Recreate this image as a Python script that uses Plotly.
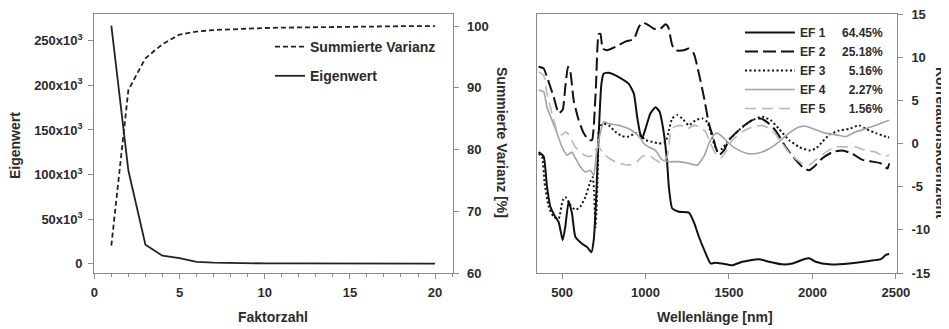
import plotly.graph_objects as go

# ---------------- data: left panel ----------------
faktor = list(range(1, 21))
eigenwert = [267000, 104500, 21300, 9000, 6200, 2000, 1200, 700, 450, 350,
             280, 230, 190, 160, 130, 110, 90, 75, 60, 50]
summierte_varianz = [64.45, 89.63, 94.79, 97.06, 98.62, 99.10, 99.35, 99.50, 99.60, 99.68,
                     99.74, 99.79, 99.83, 99.87, 99.90, 99.93, 99.95, 99.97, 99.99, 100.0]

eig_tickvals = [0, 50000, 100000, 150000, 200000, 250000]
eig_ticktext = ["0", "50x10<sup>3</sup>", "100x10<sup>3</sup>", "150x10<sup>3</sup>",
                "200x10<sup>3</sup>", "250x10<sup>3</sup>"]
var_tickvals = [60, 70, 80, 90, 100]

# ---------------- data: right panel ----------------
ef1_wl = [360, 390, 410, 430, 460, 480, 504, 520, 540, 560, 580, 620, 650, 676, 690, 704, 720, 736, 750,
          780, 840, 900, 930, 950, 970, 980, 1000, 1030, 1060, 1084, 1110, 1130, 1140, 1160, 1200, 1260,
          1290, 1320, 1360, 1390, 1420, 1460, 1520, 1580, 1680, 1740, 1820, 1880, 1950, 1980, 2020, 2100,
          2220, 2340, 2410, 2440, 2460]
ef1_val = [-1.0, -1.5, -5.0, -7.3, -8.5, -9.1, -11.2, -9.6, -6.7, -8.1, -10.8, -11.6, -12.0, -12.6, -11.2,
           -6.6, 1.2, 6.9, 8.1, 8.2, 7.7, 6.9, 5.8, 3.1, 1.0, 0.6, 1.7, 3.5, 4.2, 3.7, 1.2, -2.3, -5.0, -7.5,
           -7.9, -8.0, -9.1, -10.8, -12.7, -13.9, -13.8, -13.9, -14.1, -13.7, -13.4, -13.7, -14.0, -13.9,
           -13.4, -13.3, -13.7, -14.0, -13.9, -13.6, -13.4, -12.9, -12.8]

ef2_wl = [360, 390, 410, 450, 480, 504, 520, 536, 550, 570, 600, 630, 660, 680, 690, 704, 720, 730, 744,
          770, 820, 880, 930, 960, 980, 1010, 1050, 1090, 1120, 1136, 1160, 1180, 1230, 1260, 1290, 1320,
          1350, 1380, 1404, 1420, 1440, 1470, 1500, 1540, 1580, 1640, 1690, 1740, 1780, 1840, 1900, 1950,
          1980, 2010, 2060, 2120, 2180, 2240, 2300, 2360, 2410, 2450, 2460]
ef2_val = [8.9, 8.7, 7.7, 5.4, 3.5, 3.9, 6.6, 8.9, 8.3, 5.0, 2.7, 1.2, 0.4, 0.4, 1.9, 6.9, 12.7, 12.7, 11.0,
           10.8, 11.2, 11.8, 12.1, 13.5, 14.0, 13.8, 13.3, 13.3, 13.8, 13.5, 11.4, 10.8, 10.8, 11.0, 10.4,
           8.1, 5.4, 2.3, 0.8, -0.4, -1.35, -0.8, 0.4, 1.2, 1.9, 2.7, 2.9, 2.3, 1.5, -0.4, -1.9, -2.9, -3.1,
           -2.7, -1.7, -1.0, -0.8, -1.2, -1.9, -2.1, -2.3, -2.9, -2.3]

ef3_wl = [360, 380, 396, 420, 450, 480, 504, 520, 550, 580, 610, 640, 670, 684, 692, 700, 706, 715, 724,
          750, 780, 820, 860, 900, 940, 970, 1000, 1040, 1080, 1120, 1140, 1160, 1190, 1220, 1260, 1300,
          1340, 1370, 1390, 1410, 1430, 1460, 1490, 1530, 1580, 1640, 1700, 1750, 1800, 1860, 1920, 1980,
          2020, 2060, 2100, 2160, 2220, 2280, 2320, 2380, 2440, 2460]
ef3_val = [-1.2, -1.5, -4.6, -7.3, -8.5, -8.7, -6.6, -6.2, -7.1, -7.7, -7.3, -6.2, -4.4, -3.9, -5.5, -9.7,
           -8.0, -3.0, 1.9, 2.3, 2.1, 1.35, 0.85, 0.8, 1.2, 1.0, 0.4, 0.2, 0.0, 0.2, 1.5, 2.9, 3.3, 2.9, 2.1,
           2.7, 2.9, 2.5, 1.35, 0.0, -0.8, -0.6, 0.2, 1.0, 1.9, 2.7, 3.1, 2.7, 1.7, 0.4, -0.4, -0.8, -0.6,
           0.2, 1.0, 1.5, 1.7, 2.1, 1.7, 1.2, 0.8, 0.7]

ef4_wl = [360, 390, 410, 440, 470, 500, 530, 560, 580, 610, 640, 670, 690, 704, 720, 750, 780, 840, 900,
          940, 970, 990, 1020, 1060, 1100, 1140, 1200, 1260, 1310, 1350, 1380, 1410, 1430, 1460, 1500,
          1560, 1620, 1680, 1740, 1800, 1860, 1920, 1960, 2020, 2080, 2140, 2200, 2260, 2320, 2380, 2430,
          2460]
ef4_val = [6.2, 6.0, 4.2, 2.7, 1.2, -0.4, -1.35, -1.0, -1.7, -2.7, -3.3, -3.1, -3.7, -1.5, 0.4, 2.5, 2.3,
           2.1, 1.7, 1.2, 0.6, 0.0, -0.4, -0.8, -1.9, -2.1, -2.1, -2.3, -2.5, -1.5, 0.0, 1.0, 1.2, 0.8, 0.0,
           -0.8, -1.2, -1.1, -0.6, 0.2, 1.2, 1.9, 2.0, 1.6, 1.2, 1.0, 0.8, 1.35, 1.7, 2.1, 2.5, 2.7]

ef5_wl = [360, 390, 410, 440, 470, 500, 520, 540, 580, 620, 660, 690, 704, 720, 750, 780, 840, 900, 940,
          980, 1020, 1060, 1100, 1130, 1150, 1170, 1210, 1250, 1290, 1330, 1360, 1390, 1420, 1450, 1480,
          1520, 1580, 1640, 1700, 1760, 1820, 1880, 1940, 1980, 2020, 2080, 2140, 2200, 2260, 2320, 2380,
          2430, 2460]
ef5_val = [8.3, 7.9, 5.8, 3.5, 1.5, 1.0, 1.35, 1.0, -0.4, -1.2, -1.5, -1.35, -0.6, -0.4, -1.2, -1.7, -2.3,
           -2.5, -2.3, -1.5, -1.35, -1.9, -2.3, -1.5, 1.2, 1.9, 2.1, 1.7, 2.1, 1.9, 1.35, 0.0, -1.2, -1.7,
           -1.0, 0.4, 1.35, 1.9, 2.1, 1.5, 0.0, -1.5, -2.3, -2.5, -1.9, -1.0, -0.4, -0.4, -0.4, -0.8, -1.0,
           -1.5, -1.35]

ef_names = ["EF 1", "EF 2", "EF 3", "EF 4", "EF 5"]
ef_percent = ["64.45%", "25.18%", "5.16%", "2.27%", "1.56%"]
korr_tickvals = [-15, -10, -5, 0, 5, 10, 15]
korr_ticktext = ["-15", "-10", "-5", "0", "5", "10", "15"]

# ---------------- styling ----------------
FONT = "Liberation Sans, Arial, sans-serif"
TXT = "#2b2b2b"
FRAME = "#8a8a8a"
NB = "\u00a0"

# the page body has an 8px margin: figure pixel = page pixel - OFF
OFF = 8
W, H = 949 - OFF, 329 - OFF
top, bottom = 14 - OFF, 273 - OFF


def px(pix):  # page pixel x -> paper fraction
    return (pix - OFF) / W


def py(pix):  # page pixel y -> paper fraction
    return (bottom - (pix - OFF)) / (bottom - top)


fig = go.Figure()

fig.add_trace(go.Scatter(x=faktor, y=summierte_varianz, name="Summierte Varianz", mode="lines",
                         line=dict(color="#222", width=1.8, dash="5px,3px"),
                         xaxis="x", yaxis="y2", legend="legend", legendgroup="a"))
fig.add_trace(go.Scatter(x=faktor, y=eigenwert, name="Eigenwert", mode="lines",
                         line=dict(color="#222", width=1.8),
                         xaxis="x", yaxis="y", legend="legend", legendgroup="b"))

ef_series = [(ef1_wl, ef1_val), (ef2_wl, ef2_val), (ef3_wl, ef3_val), (ef4_wl, ef4_val), (ef5_wl, ef5_val)]
ef_styles = [dict(color="#111", width=2.0),
             dict(color="#111", width=2.0, dash="13px,5px"),
             dict(color="#111", width=2.0, dash="2px,2.5px"),
             dict(color="#a3a3a3", width=1.6),
             dict(color="#b8b8b8", width=1.6, dash="11px,6px")]
for i, ((wl, val), st) in enumerate(zip(ef_series, ef_styles)):
    pad = 5 if len(ef_percent[i]) == 6 else 7
    label = ef_names[i] + NB * pad + ef_percent[i]
    fig.add_trace(go.Scatter(x=wl, y=val, name=label, mode="lines",
                             line=dict(shape="spline", smoothing=0.5, **st),
                             xaxis="x2", yaxis="y3", legend="legend2"))

tickfont = dict(family=FONT, size=13, color=TXT, weight="bold")
common_axis = dict(showline=True, linecolor=FRAME, linewidth=1.2, ticks="outside", ticklen=5,
                   tickcolor=FRAME, tickwidth=1, showgrid=False, zeroline=False, tickfont=tickfont,
                   automargin=False, ticklabeloverflow="allow")

fig.update_layout(
    template="none",
    width=W, height=H,
    margin=dict(l=0, r=0, t=top, b=H - bottom, autoexpand=False),
    paper_bgcolor="white", plot_bgcolor="white",
    font=dict(family=FONT, color=TXT),
    xaxis=dict(domain=[px(94.3), px(453.3)], range=[0, 21.07], tickvals=[0, 5, 10, 15, 20], mirror=True,
               minor=dict(dtick=1, ticks="outside", ticklen=3, tickcolor=FRAME), anchor="y",
               ticklabelstandoff=2, **common_axis),
    yaxis=dict(range=[-10400, 280000], tickvals=eig_tickvals, ticktext=eig_ticktext, anchor="x",
               side="left", ticklabelstandoff=3, **common_axis),
    yaxis2=dict(range=[60, 101.95], tickvals=var_tickvals, overlaying="y", side="right", anchor="x",
                ticklabelstandoff=5, **common_axis),
    xaxis2=dict(domain=[px(537.3), px(896.7)], range=[352, 2505], tickvals=[500, 1000, 1500, 2000, 2500],
                mirror=True, anchor="y3", ticklabelstandoff=2, **common_axis),
    yaxis3=dict(range=[-15, 15], tickvals=korr_tickvals, ticktext=korr_ticktext, side="right",
                mirror=True, anchor="x2", ticklabelstandoff=6, **common_axis),
    showlegend=True,
    legend=dict(x=px(270), xanchor="left", y=py(31), yanchor="top", bgcolor="rgba(0,0,0,0)",
                font=dict(family=FONT, size=14, color=TXT, weight="bold"), tracegroupgap=8,
                itemwidth=30),
    legend2=dict(x=px(740), xanchor="left", y=py(18), yanchor="top", bgcolor="rgba(0,0,0,0)",
                 font=dict(family=FONT, size=12, color=TXT, weight="bold"), itemwidth=50),
)

title_font = dict(family=FONT, size=14, color=TXT, weight="bold")
fig.add_annotation(text="Eigenwert", x=px(15), y=py(146), xref="paper", yref="paper",
                   textangle=-90, showarrow=False, font=title_font, xanchor="center", yanchor="middle")
fig.add_annotation(text="Faktorzahl", x=px(273), y=py(317), xref="paper", yref="paper",
                   showarrow=False, font=title_font, xanchor="center", yanchor="middle")
fig.add_annotation(text="Summierte Varianz [%]", x=px(502), y=py(143), xref="paper", yref="paper",
                   textangle=90, showarrow=False, font=title_font, xanchor="center", yanchor="middle")
fig.add_annotation(text="Wellenlänge [nm]", x=px(715), y=py(317), xref="paper", yref="paper",
                   showarrow=False, font=title_font, xanchor="center", yanchor="middle")
fig.add_annotation(text="Korrelationskoeffizient", x=px(941), y=py(143), xref="paper", yref="paper",
                   textangle=90, showarrow=False, font=title_font, xanchor="center", yanchor="middle")

fig.write_html("out.html")
